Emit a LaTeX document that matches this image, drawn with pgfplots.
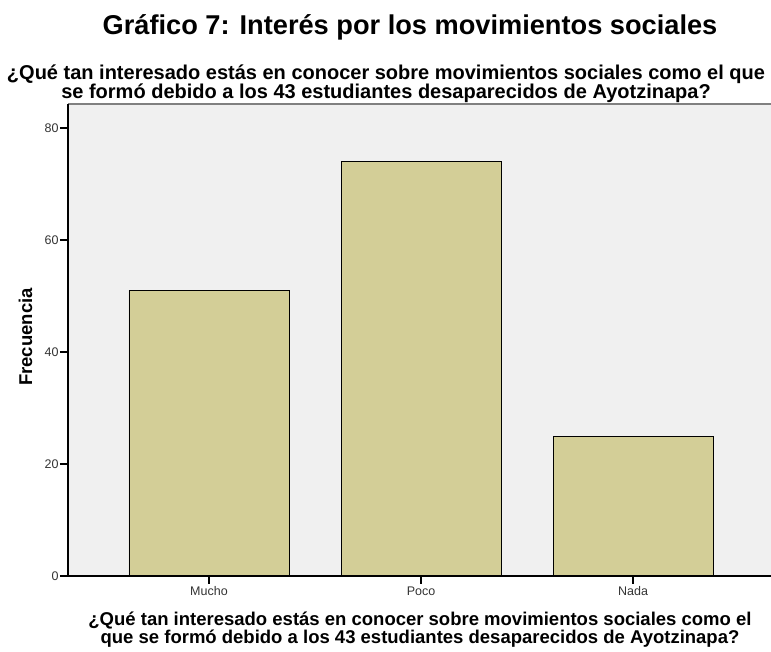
\documentclass[border=0pt]{standalone}
\usepackage{pgfplots}
\pgfplotsset{compat=1.18}
\usepackage{fontspec}
\setmainfont{Liberation Sans}
\definecolor{barfill}{HTML}{D3CE97}
\definecolor{bgfill}{HTML}{F0F0F0}
\definecolor{tickgray}{HTML}{333333}
\pgfplotstableread{
x y
0 51
1 74
2 25
}\datatable
\begin{document}
\begin{tikzpicture}
\useasboundingbox (0pt,0pt) rectangle (771pt,652pt);
\begin{scope}
\clip (0pt,0pt) rectangle (771pt,652pt);
\begin{axis}[
  at={(68pt,76pt)}, anchor=south west,
  scale only axis, width=706pt, height=472pt,
  xmin=-0.665, xmax=2.665, ymin=0, ymax=84.3,
  axis background/.style={fill=bgfill},
  axis line style={draw=none},
  xtick={0,1,2}, xticklabels={Mucho,Poco,Nada},
  ytick={0,20,40,60,80},
  xtick pos=left, ytick pos=left,
  tick align=outside,
  major tick length=8pt,
  every tick/.style={draw=black, line width=1.2pt},
  tick label style={font=\fontsize{12.5}{14}\selectfont, text=tickgray},
  yticklabel style={xshift=2pt},
  xticklabel style={yshift=1pt},
  /pgf/number format/assume math mode=true,
  clip=false,
]
\addplot[ybar, bar width=160pt, fill=barfill, draw=black, line width=0.9pt] table[x=x,y=y]{\datatable};
\draw[gray, line width=1.5pt] (rel axis cs:0,1) -- (rel axis cs:1,1);
\draw[black, line width=1.5pt] (rel axis cs:0,1) -- (rel axis cs:0,0) -- (rel axis cs:1,0);
\draw[black, line width=1.2pt] (axis cs:0,0) -- ++(0pt,-8pt);
\draw[black, line width=1.2pt] (axis cs:1,0) -- ++(0pt,-8pt);
\draw[black, line width=1.2pt] (axis cs:2,0) -- ++(0pt,-8pt);
\end{axis}
\end{scope}
\node[font=\fontsize{27.2}{30}\selectfont\bfseries, anchor=base] at (410pt,617pt) {Gráfico 7: Interés por los movimientos sociales};
\node[font=\fontsize{20}{17}\selectfont\bfseries, align=center, anchor=base] at (386pt,553pt) {¿Qué tan interesado estás en conocer sobre movimientos sociales como el que\\se formó debido a los 43 estudiantes desaparecidos de Ayotzinapa?};
\node[font=\fontsize{18.5}{20}\selectfont\bfseries, rotate=90, anchor=base] at (32pt,315pt) {Frecuencia};
\node[font=\fontsize{18.5}{16}\selectfont\bfseries, align=center, anchor=base] at (420pt,8pt) {¿Qué tan interesado estás en conocer sobre movimientos sociales como el\\que se formó debido a los 43 estudiantes desaparecidos de Ayotzinapa?};
\end{tikzpicture}
\end{document}
